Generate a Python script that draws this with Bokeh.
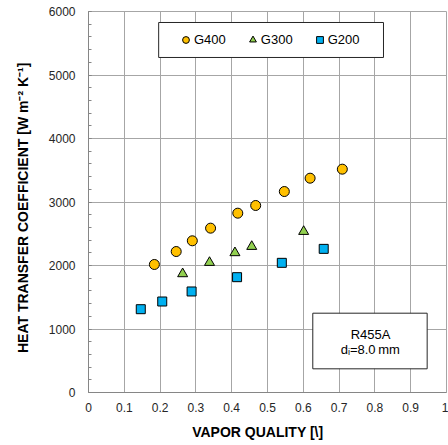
from bokeh.plotting import figure
from bokeh.models import (Range1d, SingleIntervalTicker, CustomJSTickFormatter,
                          BoxAnnotation, Legend, LegendItem, Label)
from bokeh.embed import file_html
from bokeh.resources import INLINE

# ---- data ----
x_g400 = [0.184, 0.245, 0.290, 0.341, 0.417, 0.467, 0.547, 0.619, 0.709]
y_g400 = [2016, 2220, 2389, 2588, 2824, 2945, 3165, 3375, 3517]
x_g300 = [0.263, 0.338, 0.409, 0.456, 0.601]
y_g300 = [1869, 2047, 2200, 2299, 2535]
x_g200 = [0.146, 0.206, 0.288, 0.415, 0.540, 0.657]
y_g200 = [1312, 1433, 1591, 1816, 2042, 2262]
series_labels = ["G400", "G300", "G200"]
x_title = "VAPOR QUALITY [\\]"
y_title = "HEAT TRANSFER COEFFICIENT [W m\u207b\u00b2 K\u207b\u00b9]"

FONT = "Liberation Sans"
NBSP = "\u00a0"

p = figure(width=448, height=445, output_backend="svg", toolbar_location=None,
           x_range=Range1d(0, 1), y_range=Range1d(0, 6000),
           min_border_left=88, min_border_right=2, min_border_top=11, min_border_bottom=53)
p.outline_line_color = "#A6A6A6"
p.background_fill_color = "white"

# grids
p.xgrid.grid_line_color = "#A6A6A6"
p.ygrid.grid_line_color = "#A6A6A6"
p.xgrid.grid_line_width = 1
p.ygrid.grid_line_width = 1

# axes
p.xaxis.ticker = SingleIntervalTicker(interval=0.1, num_minor_ticks=0)
p.yaxis.ticker = SingleIntervalTicker(interval=1000, num_minor_ticks=5)
p.xaxis.formatter = CustomJSTickFormatter(code="return String(Number(tick.toFixed(1)));")
p.yaxis.formatter = CustomJSTickFormatter(code="return String(Math.round(tick));")
for ax in (p.xaxis, p.yaxis):
    ax.axis_line_color = "#868686"
    ax.major_tick_line_color = "#868686"
    ax.minor_tick_line_color = "#868686"
    ax.major_label_text_font = FONT
    ax.major_label_text_font_size = "12px"
    ax.major_label_text_color = "#262626"
    ax.axis_label_text_font = FONT
    ax.axis_label_text_font_style = "bold"
    ax.axis_label_text_font_size = "14px"
    ax.axis_label_text_color = "black"
p.xaxis.major_tick_in = 0
p.xaxis.major_tick_out = 0
p.yaxis.major_tick_in = 3
p.yaxis.major_tick_out = 0
p.yaxis.minor_tick_in = 3
p.yaxis.minor_tick_out = 0
p.xaxis.major_label_standoff = 10
p.yaxis.major_label_standoff = 13
# trailing non-breaking spaces nudge the titles off-centre as in the reference
p.xaxis.axis_label = x_title + NBSP * 5
p.yaxis.axis_label = y_title + NBSP * 3
p.xaxis.axis_label_standoff = 9
p.yaxis.axis_label_standoff = 15

# markers
r400 = p.scatter(x_g400, y_g400, marker="circle", size=10, fill_color="#FFC000",
                 line_color="black", line_width=1)
r300 = p.scatter(x_g300, y_g300, marker="triangle", size=10, fill_color="#92D050",
                 line_color="black", line_width=1)
r200 = p.scatter(x_g200, y_g200, marker="square", size=9, fill_color="#00B0F0",
                 line_color="black", line_width=1)

# legend frame
p.add_layout(BoxAnnotation(left=0.196, right=0.824, bottom=5276, top=5827,
                           fill_color="white", fill_alpha=1,
                           line_color="#262626", line_alpha=1, line_width=1))
legend = Legend(items=[LegendItem(label=series_labels[0], renderers=[r400]),
                       LegendItem(label=series_labels[1], renderers=[r300]),
                       LegendItem(label=series_labels[2], renderers=[r200])],
                orientation="horizontal", location=(89, 344),
                padding=0, margin=0, spacing=18, label_standoff=0,
                glyph_width=17, glyph_height=17, label_height=17,
                border_line_alpha=0, background_fill_alpha=0,
                label_text_font=FONT, label_text_font_size="13px",
                label_text_color="black")
p.add_layout(legend, "center")

# annotation box
p.add_layout(BoxAnnotation(left=0.6265, right=0.946, bottom=373, top=1249,
                           fill_color="white", fill_alpha=1,
                           line_color="#262626", line_alpha=1, line_width=1))
p.add_layout(Label(x=0.788, y=909, text="R455A", text_align="center",
                   text_baseline="middle", text_font=FONT, text_font_size="13px",
                   text_color="black"))
p.add_layout(Label(x=0.787, y=672, text="d\u1d62=8.0\u2009mm", text_align="center",
                   text_baseline="middle", text_font=FONT, text_font_size="13px",
                   text_color="black"))

open("out.html", "w").write(file_html(p, INLINE))
